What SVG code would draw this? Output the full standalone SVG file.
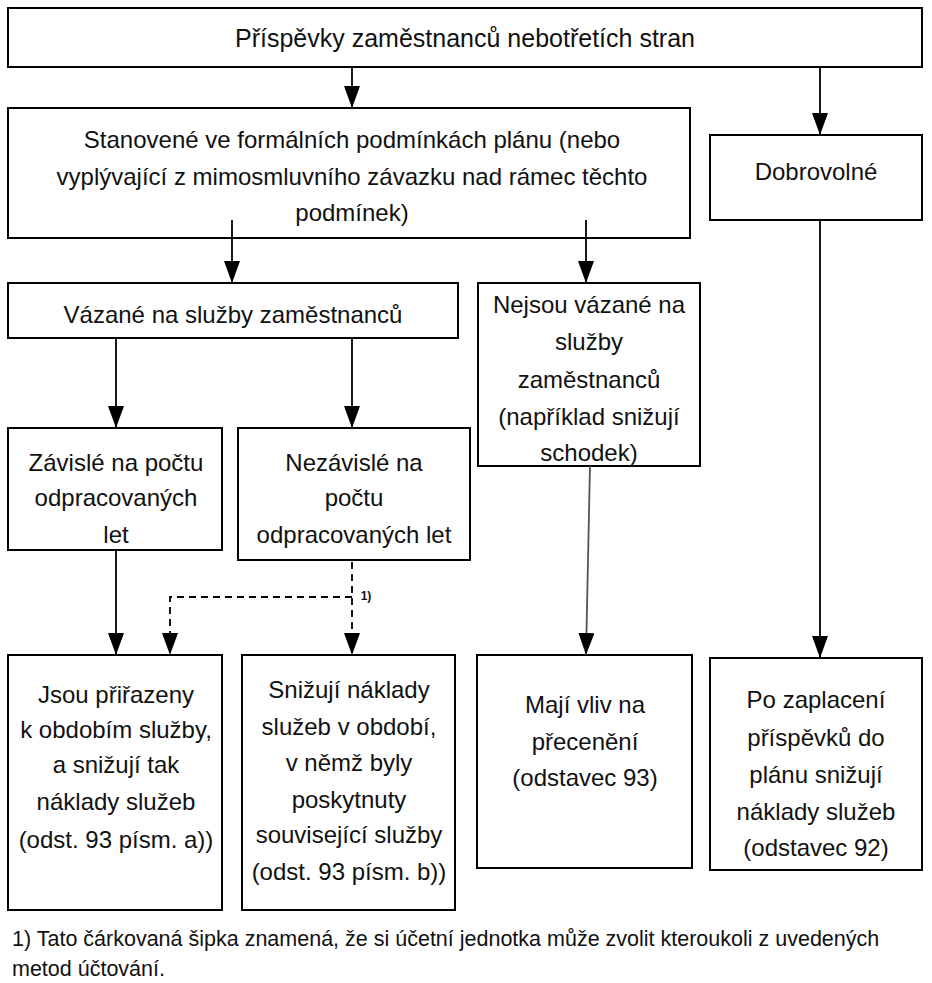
<svg xmlns="http://www.w3.org/2000/svg" width="932" height="983" viewBox="0 0 932 983">
<defs>
<marker id="ah" markerWidth="22" markerHeight="16" refX="22" refY="8" orient="auto" markerUnits="userSpaceOnUse" viewBox="0 0 22 16">
<path d="M0,0 L22,8 L0,16 Z" fill="#000"/>
</marker>
<style>
rect{fill:#fff;stroke:#000;stroke-width:2}
text{font-family:"Liberation Sans",Arial,sans-serif;font-size:24px;fill:#111;text-anchor:middle}
.c line,.c path{stroke:#000;stroke-width:1.8;fill:none}
.d{stroke-dasharray:7,5}
.fn{text-anchor:start;font-size:21.5px}
</style>
</defs>
<rect x="0" y="0" width="932" height="983" style="fill:#fff;stroke:none"/>
<g id="n-top"><rect x="8" y="8" width="914" height="59"/><text x="465" y="47" style="font-size:25px">Příspěvky zaměstnanců nebotřetích stran</text></g>
<g id="n-formal"><rect x="8" y="108" width="682" height="130"/>
<text x="352" y="148">Stanovené ve formálních podmínkách plánu (nebo</text>
<text x="352" y="185">vyplývající z mimosmluvního závazku nad rámec těchto</text>
<text x="352" y="221">podmínek)</text></g>
<g id="n-dobro"><rect x="710" y="135" width="212" height="85"/><text x="816" y="180">Dobrovolné</text></g>
<g id="n-vazane"><rect x="8" y="283" width="450" height="55"/><text x="233" y="323">Vázané na služby zaměstnanců</text></g>
<g id="n-nejsou"><rect x="478" y="283" width="222" height="183"/>
<text x="589" y="313">Nejsou vázané na</text>
<text x="589" y="350">služby</text>
<text x="589" y="388">zaměstnanců</text>
<text x="589" y="425">(například snižují</text>
<text x="589" y="461">schodek)</text></g>
<g id="n-zavisle"><rect x="8" y="428" width="214" height="122"/>
<text x="116" y="471">Závislé na počtu</text>
<text x="116" y="506">odpracovaných</text>
<text x="116" y="543">let</text></g>
<g id="n-nezavisle"><rect x="238" y="428" width="232" height="132"/>
<text x="354" y="471">Nezávislé na</text>
<text x="354" y="506">počtu</text>
<text x="354" y="543">odpracovaných let</text></g>
<g id="n-a"><rect x="8" y="655" width="214" height="255"/>
<text x="116" y="703">Jsou přiřazeny</text>
<text x="116" y="738">k obdobím služby,</text>
<text x="116" y="773">a snižují tak</text>
<text x="116" y="810">náklady služeb</text>
<text x="116" y="848">(odst. 93 písm. a))</text></g>
<g id="n-b"><rect x="242" y="655" width="213" height="255"/>
<text x="349" y="698">Snižují náklady</text>
<text x="349" y="735">služeb v období,</text>
<text x="349" y="771">v němž byly</text>
<text x="349" y="808">poskytnuty</text>
<text x="349" y="843">související služby</text>
<text x="349" y="880">(odst. 93 písm. b))</text></g>
<g id="n-c"><rect x="477" y="655" width="215" height="213"/>
<text x="585" y="713">Mají vliv na</text>
<text x="585" y="750">přecenění</text>
<text x="585" y="786">(odstavec 93)</text></g>
<g id="n-d"><rect x="710" y="658" width="212" height="212"/>
<text x="816" y="708">Po zaplacení</text>
<text x="816" y="746">příspěvků do</text>
<text x="816" y="783">plánu snižují</text>
<text x="816" y="820">náklady služeb</text>
<text x="816" y="856">(odstavec 92)</text></g>
<g id="connectors" class="c">
<line x1="352" y1="67" x2="352" y2="108" marker-end="url(#ah)"/>
<line x1="820" y1="67" x2="820" y2="135" marker-end="url(#ah)"/>
<line x1="232" y1="220" x2="232" y2="283" marker-end="url(#ah)"/>
<line x1="586" y1="220" x2="586" y2="283" marker-end="url(#ah)"/>
<line x1="116" y1="338" x2="116" y2="428" marker-end="url(#ah)"/>
<line x1="352" y1="338" x2="352" y2="428" marker-end="url(#ah)"/>
<line x1="116" y1="550" x2="116" y2="655" marker-end="url(#ah)"/>
<line class="d" x1="352" y1="562" x2="352" y2="655" marker-end="url(#ah)"/>
<path class="d" d="M352,597 H170 V655" marker-end="url(#ah)"/>
<line x1="590" y1="466" x2="586" y2="655" marker-end="url(#ah)" style="stroke:#555"/>
<line x1="820" y1="220" x2="820" y2="658" marker-end="url(#ah)"/>
</g>
<text x="366" y="600" style="font-size:12px;font-weight:bold">1)</text>
<g id="footnote">
<text class="fn" x="12" y="946">1) Tato čárkovaná šipka znamená, že si účetní jednotka může zvolit kteroukoli z uvedených</text>
<text class="fn" x="12" y="976">metod účtování.</text>
</g>
</svg>
